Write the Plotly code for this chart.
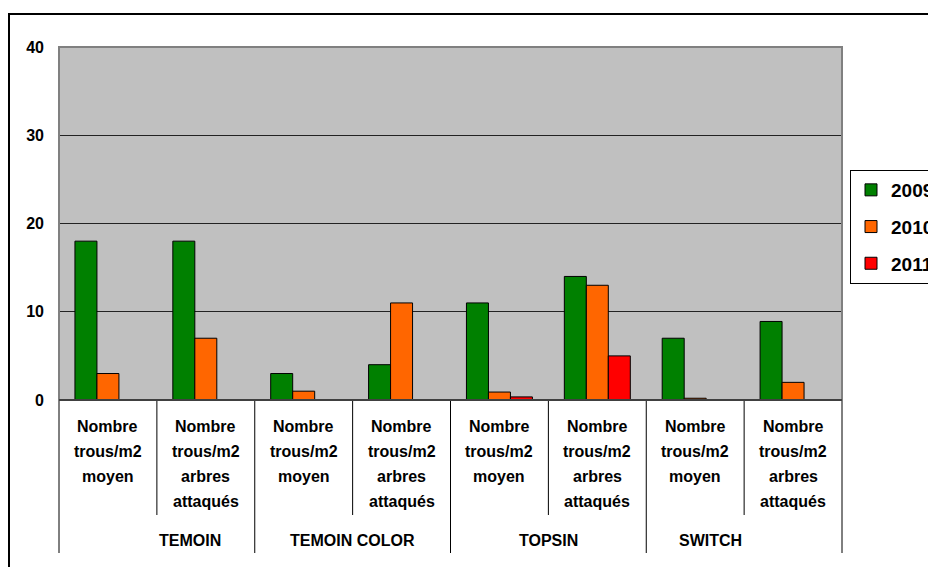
import plotly.graph_objects as go

groups = ["TEMOIN", "TEMOIN COLOR", "TOPSIN", "SWITCH"]
inner_labels = [
    ["Nombre", "trous/m2", "moyen"],
    ["Nombre", "trous/m2", "arbres", "attaqués"],
]
years = ["2009", "2010", "2011"]
values_2009 = [18, 18, 3, 4, 11, 14, 7, 8.9]
values_2010 = [3, 7, 1, 11, 0.9, 13, 0.2, 2]
values_2011 = [0, 0, 0, 0, 0.35, 5, 0, 0]
colors = ["#008000", "#FF6600", "#FF0000"]
y_ticks = [0, 10, 20, 30, 40]

FONT = "Arial, Liberation Sans, sans-serif"

cats = []
cat_inner = []
for g in groups:
    for lab in inner_labels:
        cats.append(g + "|" + lab[-1])
        cat_inner.append(lab)

fig = go.Figure()
for yr, vals, col in zip(years, [values_2009, values_2010, values_2011], colors):
    fig.add_trace(go.Bar(
        x=cats, y=vals, name=yr,
        marker=dict(color=col, line=dict(color="black", width=1)),
        legendgroup=yr,
    ))

# page body has an 8px margin; work in window pixel coordinates
OFF = 8
W, H = 990, 567
plot_left, plot_right, plot_top, plot_bottom = 59, 842, 47, 400
L = plot_left - OFF
T = plot_top - OFF
R = W - (plot_right - OFF)
B = H - (plot_bottom - OFF)
pw = plot_right - plot_left
ph = plot_bottom - plot_top

def py(pix):
    return (plot_bottom - pix) / ph

def px(pix):
    return (pix - plot_left) / pw

shapes = []
annotations = []
n = len(cats)
m = len(inner_labels)
for k in range(n + 1):
    outer = (k % m == 0)
    shapes.append(dict(type="line", xref="paper", yref="paper",
                       x0=k / n, x1=k / n, y0=0, y1=py(553 if outer else 515),
                       line=dict(color="black", width=1)))

LABEL_FONT = dict(family=FONT, size=16, color="black", weight="bold")
for i, lines in enumerate(cat_inner):
    for j, line in enumerate(lines):
        annotations.append(dict(xref="x", yref="paper", x=cats[i], y=py(426 + 25 * j),
                                text=line, showarrow=False, yanchor="middle",
                                font=LABEL_FONT))
for gi, g in enumerate(groups):
    annotations.append(dict(xref="paper", yref="paper", x=(gi * m + m / 2) / n, y=py(540),
                            text=g, showarrow=False, yanchor="middle",
                            font=LABEL_FONT))

# outer chart border
shapes.append(dict(type="rect", xref="paper", yref="paper", layer="below",
                   x0=px(9), x1=px(1100), y0=py(700), y1=py(14),
                   line=dict(color="black", width=2), fillcolor="rgba(0,0,0,0)"))
# plot area border
shapes.append(dict(type="rect", xref="paper", yref="paper",
                   x0=0, x1=1, y0=0, y1=1,
                   line=dict(color="#808080", width=2), fillcolor="rgba(0,0,0,0)"))
# zero line
shapes.append(dict(type="line", xref="paper", yref="paper", x0=0, x1=1, y0=0, y1=0,
                   line=dict(color="black", width=1)))

fig.update_layout(
    width=W, height=H,
    margin=dict(l=L, r=R, t=T, b=B, pad=0),
    paper_bgcolor="white", plot_bgcolor="#C0C0C0",
    barmode="group", bargap=0.326, bargroupgap=0,
    font=dict(family=FONT, color="black"),
    xaxis=dict(type="category", showticklabels=False, ticks="", showgrid=False,
               zeroline=False, showline=False, range=[-0.5, n - 0.5]),
    yaxis=dict(range=[0, 40], tickvals=y_ticks, ticks="", showline=False,
               gridcolor="#222222", gridwidth=1, zeroline=False,
               tickfont=dict(family=FONT, size=16, color="black", weight="bold"),
               ticklabelstandoff=14),
    showlegend=True,
    legend=dict(x=px(850), y=py(170), xanchor="left", yanchor="top",
                bgcolor="white", bordercolor="black", borderwidth=1,
                font=dict(family=FONT, size=19, color="black", weight="bold"),
                traceorder="grouped", tracegroupgap=9, itemwidth=30),
    shapes=shapes, annotations=annotations,
)

fig.write_html("out.html")
